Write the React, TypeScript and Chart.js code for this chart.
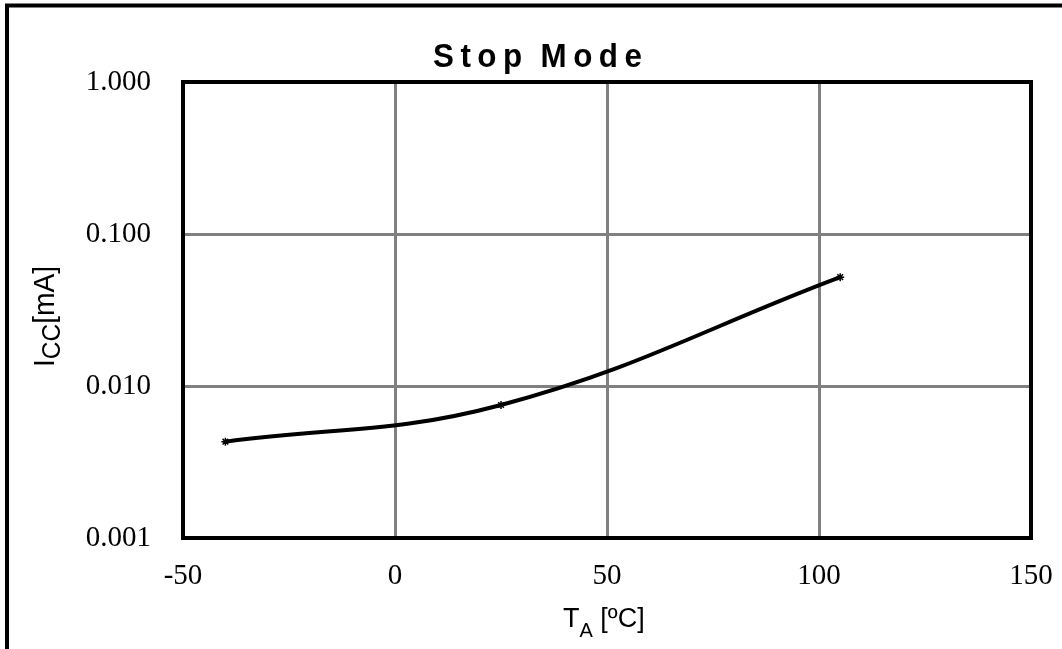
import React, { useEffect, useRef } from "react";
import { Chart, registerables } from "chart.js";

Chart.register(...registerables);

// ---- data ----
const TEMPERATURES = [-40, 25, 105];
const ICC_MA = [0.0043, 0.0075, 0.052];
const X_TICKS = [-50, 0, 50, 100, 150];
const Y_TICKS = [0.001, 0.01, 0.1, 1];
const TITLE = "Stop Mode";
const Y_TITLE_MAIN = "I";
const Y_TITLE_SUB = "CC";
const Y_TITLE_REST = "[mA]";
const X_TITLE_MAIN = "T";
const X_TITLE_SUB = "A";
const X_TITLE_REST = " [ºC]";

const SANS = "'Liberation Sans', Arial, sans-serif";
const SERIF = "'Liberation Serif', 'Times New Roman', serif";

function drawSpaced(ctx: CanvasRenderingContext2D, text: string, x: number, y: number, sx: number, ls: number) {
  let cx = x;
  for (const ch of text) {
    ctx.save();
    ctx.translate(cx, y);
    ctx.scale(sx, 1);
    ctx.fillText(ch, 0, 0);
    ctx.restore();
    cx += ctx.measureText(ch).width * sx + (ch === " " ? ls * 0.5 : ls);
  }
}

const decorPlugin = {
  id: "decor",
  beforeDraw(chart: any) {
    const ctx = chart.ctx as CanvasRenderingContext2D;
    ctx.save();
    ctx.fillStyle = "#ffffff";
    ctx.fillRect(0, 0, chart.width, chart.height);
    ctx.restore();
  },
  afterDraw(chart: any) {
    const ctx = chart.ctx as CanvasRenderingContext2D;
    const a = chart.chartArea;
    ctx.save();
    // plot border
    ctx.strokeStyle = "#000";
    ctx.lineWidth = 4;
    ctx.strokeRect(a.left, a.top, a.right - a.left, a.bottom - a.top);
    // outer frame
    ctx.strokeRect(7, 5.5, 1200, 800);

    ctx.fillStyle = "#000";
    ctx.textBaseline = "alphabetic";
    ctx.textAlign = "left";

    // title
    ctx.font = `bold 33px ${SANS}`;
    drawSpaced(ctx, TITLE, 433, 67, 0.95, 6.5);

    // x axis title
    ctx.font = `27px ${SANS}`;
    let x = 563;
    ctx.fillText(X_TITLE_MAIN, x, 627);
    x += ctx.measureText(X_TITLE_MAIN).width;
    ctx.font = `20px ${SANS}`;
    ctx.fillText(X_TITLE_SUB, x, 637);
    x += ctx.measureText(X_TITLE_SUB).width;
    ctx.font = `27px ${SANS}`;
    ctx.fillText(X_TITLE_REST, x, 627);

    // y axis title (rotated)
    ctx.save();
    ctx.translate(54, 367);
    ctx.rotate(-Math.PI / 2);
    ctx.scale(0.94, 1);
    ctx.font = `30px ${SANS}`;
    let t = 0;
    ctx.fillText(Y_TITLE_MAIN, t, 0);
    t += ctx.measureText(Y_TITLE_MAIN).width;
    ctx.font = `26px ${SANS}`;
    ctx.fillText(Y_TITLE_SUB, t, 6);
    t += ctx.measureText(Y_TITLE_SUB).width;
    ctx.font = `30px ${SANS}`;
    ctx.fillText(Y_TITLE_REST, t, 0);
    ctx.restore();

    ctx.restore();
  },
};

export default function App() {
  const ref = useRef<HTMLCanvasElement | null>(null);

  useEffect(() => {
    if (!ref.current) return;
    const points = TEMPERATURES.map((t, i) => ({ x: t, y: ICC_MA[i] }));
    const chart = new Chart(ref.current, {
      type: "line",
      data: {
        datasets: [
          {
            data: points,
            borderColor: "#000",
            backgroundColor: "#000",
            borderWidth: 4,
            tension: 0.4,
            pointStyle: "star",
            pointRadius: 4,
            pointBorderWidth: 1.5,
            pointBorderColor: "#000",
            pointBackgroundColor: "#000",
            fill: false,
          },
        ],
      },
      options: {
        responsive: false,
        maintainAspectRatio: false,
        animation: false,
        devicePixelRatio: 1,
        layout: { padding: { top: 82, right: 31, left: 0, bottom: 0 } },
        plugins: {
          legend: { display: false },
          title: { display: false },
          tooltip: { enabled: false },
        },
        scales: {
          x: {
            type: "linear",
            min: -50,
            max: 150,
            afterBuildTicks: (scale: any) => {
              scale.ticks = X_TICKS.map((v) => ({ value: v }));
            },
            afterFit: (scale: any) => {
              scale.height = 111;
              scale.paddingLeft = 0;
              scale.paddingRight = 0;
            },
            grid: { color: "#808080", lineWidth: 3, drawTicks: false },
            border: { display: false },
            ticks: {
              color: "#000",
              font: { family: SERIF, size: 29 },
              padding: 21,
              maxRotation: 0,
              autoSkip: false,
              callback: (v: any) => String(v),
            },
          },
          y: {
            type: "logarithmic",
            min: 0.001,
            max: 1,
            afterBuildTicks: (scale: any) => {
              scale.ticks = Y_TICKS.map((v) => ({ value: v }));
            },
            afterFit: (scale: any) => {
              scale.width = 183;
              scale.paddingTop = 0;
              scale.paddingBottom = 0;
            },
            grid: { color: "#808080", lineWidth: 3, drawTicks: false },
            border: { display: false },
            ticks: {
              color: "#000",
              font: { family: SERIF, size: 29 },
              padding: 32,
              autoSkip: false,
              callback: (v: any) => Number(v).toFixed(3),
            },
          },
        },
      },
      plugins: [decorPlugin],
    } as any);
    return () => chart.destroy();
  }, []);

  return (
    <div style={{ position: "fixed", left: 0, top: 0, width: 1062, height: 649 }}>
      <canvas ref={ref} width={1062} height={649} style={{ display: "block", width: 1062, height: 649 }} />
    </div>
  );
}
